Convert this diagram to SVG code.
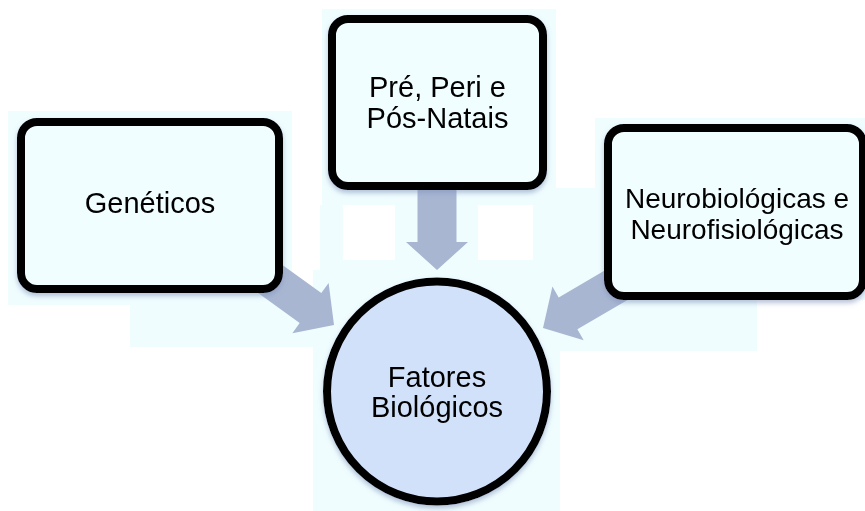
<svg xmlns="http://www.w3.org/2000/svg" width="865" height="511" viewBox="0 0 865 511">
  <defs>
    <filter id="sh" x="-10%" y="-10%" width="125%" height="130%">
      <feDropShadow dx="0" dy="3" stdDeviation="2.5" flood-color="#7f90b8" flood-opacity="0.55"/>
    </filter>
    <style>
      .patch { fill: #effdff; }
      .box { fill: #f1feff; stroke: #000; stroke-width: 8; }
      .circ { fill: #d1e1fa; stroke: #000; stroke-width: 8; }
      .arrow { fill: #a8b6d2; }
      text { font-family: "Liberation Sans", Arial, sans-serif; font-size: 29px; fill: #000; text-anchor: middle; }
    </style>
  </defs>
  <rect width="865" height="511" fill="#ffffff"/>
  <g id="background">
    <rect class="patch" x="8" y="111" width="284" height="194"/>
    <rect class="patch" x="130" y="292" width="183" height="55"/>
    <rect class="patch" x="322" y="9" width="234" height="196"/>
    <rect class="patch" x="320" y="205" width="240" height="65"/>
    <rect fill="#ffffff" x="343" y="205" width="52" height="55"/>
    <rect fill="#ffffff" x="478" y="205" width="55" height="55"/>
    <rect class="patch" x="313" y="270" width="247" height="241"/>
    <rect class="patch" x="595" y="118" width="270" height="182"/>
    <rect class="patch" x="540" y="188" width="60" height="162"/>
    <rect class="patch" x="552" y="298" width="205" height="53"/>
  </g>
  <g id="connectors">
    <path class="arrow" transform="translate(437,270) rotate(90)" d="M0,0 L-28,-31 L-28,-19.5 L-90,-19.5 L-90,19.5 L-28,19.5 L-28,31 Z"/>
    <path class="arrow" transform="translate(334,325) rotate(35.8)" d="M0,0 L-29,-31 L-29,-18.5 L-100,-18.5 L-100,18.5 L-29,18.5 L-29,31 Z"/>
    <path class="arrow" transform="translate(543,328) rotate(149.7)" d="M0,0 L-29,-31 L-29,-18.5 L-100,-18.5 L-100,18.5 L-29,18.5 L-29,31 Z"/>
  </g>
  <g id="geneticos" filter="url(#sh)">
    <rect class="box" x="21" y="122" width="258" height="167" rx="16" ry="16"/>
    <text x="150" y="213">Genéticos</text>
  </g>
  <g id="pre-peri-pos-natais" filter="url(#sh)">
    <rect class="box" x="332" y="19" width="211" height="167" rx="16" ry="16"/>
    <text x="437.5" y="97">Pré, Peri e</text>
    <text x="437.5" y="128">Pós-Natais</text>
  </g>
  <g id="neuro" filter="url(#sh)">
    <rect class="box" x="608" y="128" width="255" height="168" rx="16" ry="16"/>
    <text x="737" y="207.5" style="font-size:28px">Neurobiológicas e</text>
    <text x="737" y="238.5" style="font-size:28px">Neurofisiológicas</text>
  </g>
  <g id="fatores-biologicos" filter="url(#sh)">
    <circle class="circ" cx="437" cy="391.5" r="110"/>
    <text x="437" y="387">Fatores</text>
    <text x="437" y="417">Biológicos</text>
  </g>
</svg>
